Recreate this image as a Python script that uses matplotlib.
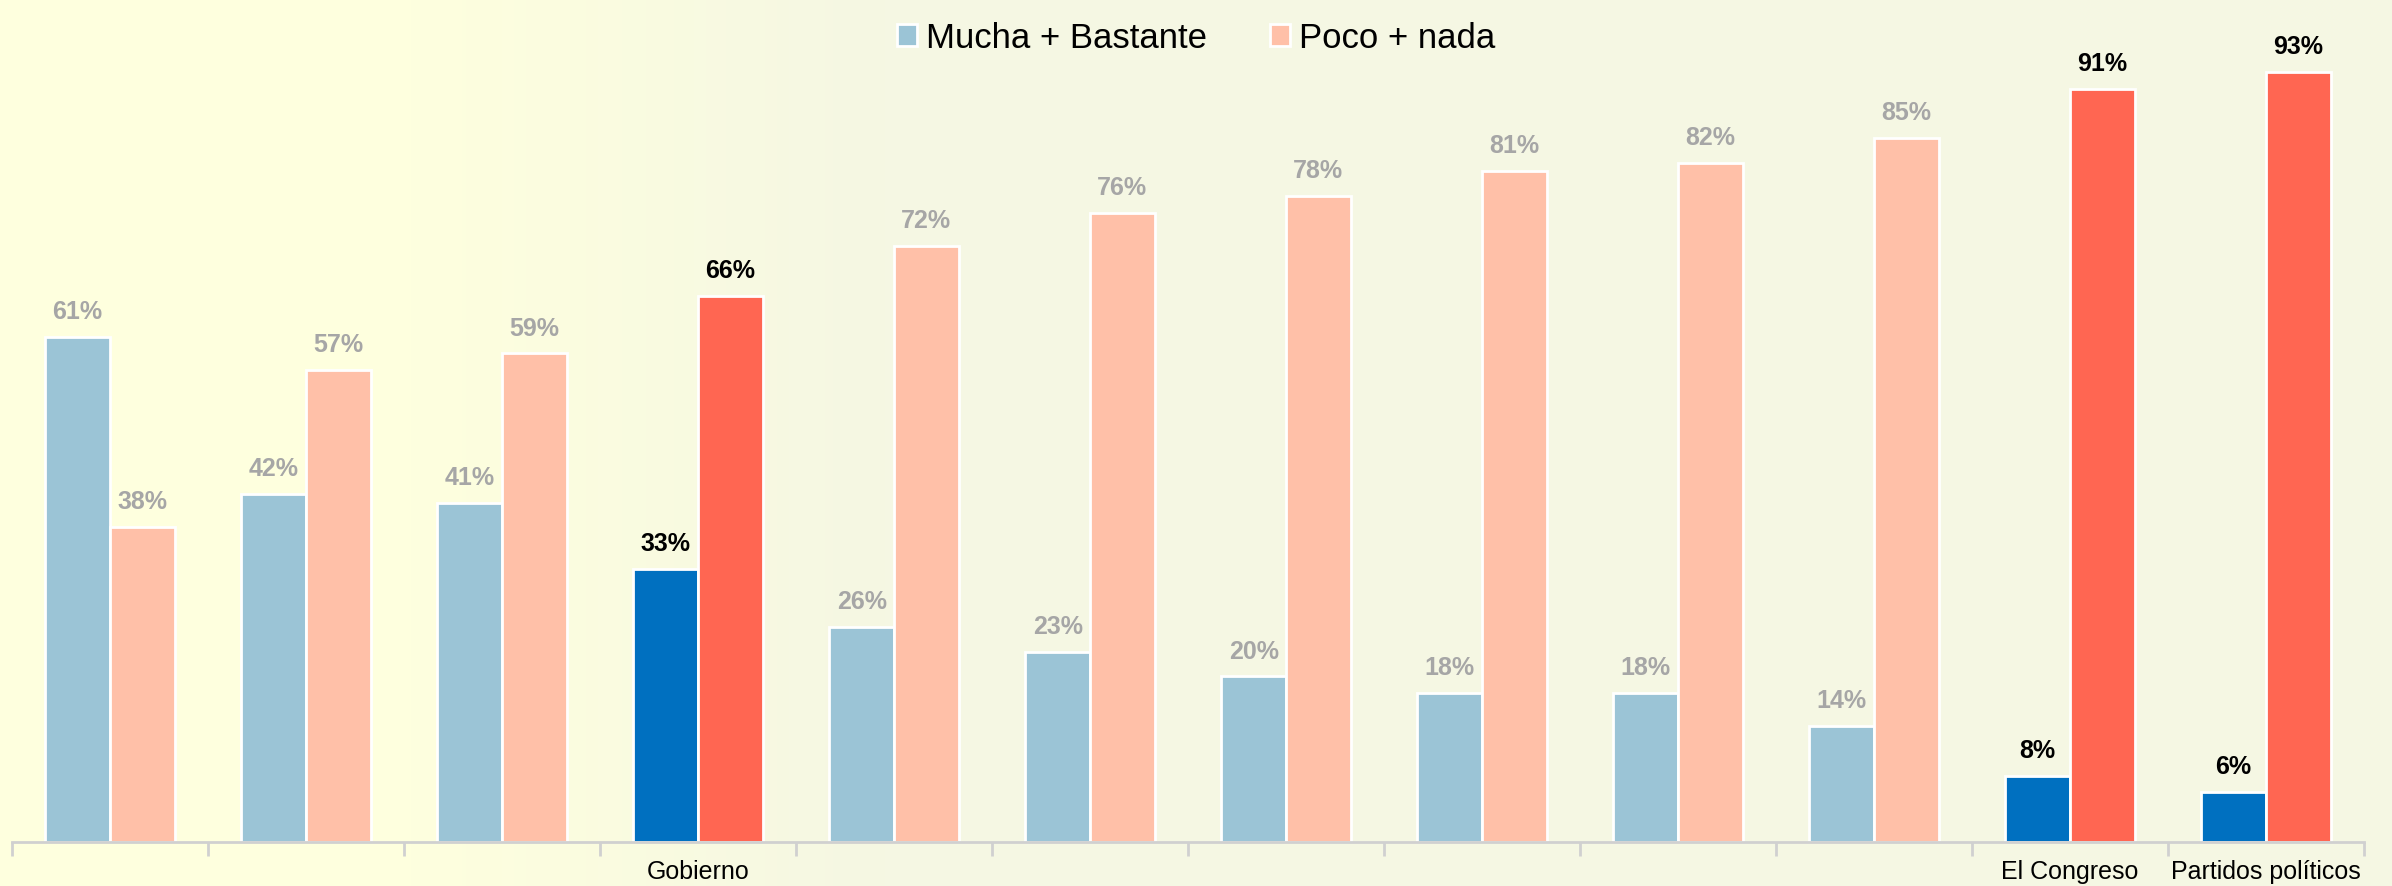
import matplotlib
matplotlib.use("Agg")
import matplotlib.pyplot as plt
import numpy as np
from matplotlib.colors import LinearSegmentedColormap

plt.rcParams["font.family"] = ["Liberation Sans", "DejaVu Sans"]

# data
categories = ["", "", "", "Gobierno", "", "", "", "", "", "", "El Congreso", "Partidos políticos"]
mucha = [61, 42, 41, 33, 26, 23, 20, 18, 18, 14, 8, 6]
poco = [38, 57, 59, 66, 72, 76, 78, 81, 82, 85, 91, 93]
highlight = [False, False, False, True, False, False, False, False, False, False, True, True]

BLUE_LIGHT = "#9BC4D6"
BLUE_DARK = "#0070C0"
RED_LIGHT = "#FFC0A8"
RED_DARK = "#FF6652"
GRAY = "#A6A6A6"

fig = plt.figure(figsize=(23.92, 8.87), dpi=100)

# background: plain pale yellow on the left, greyer paper tone to the right
bg = fig.add_axes([0, 0, 1, 1], zorder=-10)
grad = np.clip((np.linspace(0, 1, 600) - 0.17) / 0.2, 0, 1)
bg_cmap = LinearSegmentedColormap.from_list("bg", ["#FEFFDE", "#F5F7E3"])
bg.imshow(grad[np.newaxis, :], aspect="auto", cmap=bg_cmap, extent=[0, 1, 0, 1])
bg.axis("off")

ax = fig.add_axes([0.005, 0.0496, 0.9833, 0.9335])
ax.patch.set_alpha(0)

x = np.arange(len(categories))
w = 0.33
off = 0.165
c_blue = [BLUE_DARK if h else BLUE_LIGHT for h in highlight]
c_red = [RED_DARK if h else RED_LIGHT for h in highlight]
b1 = ax.bar(x - off, mucha, w, color=c_blue, edgecolor="white", linewidth=2)
b2 = ax.bar(x + off, poco, w, color=c_red, edgecolor="white", linewidth=2)

for bars, vals in ((b1, mucha), (b2, poco)):
    for rect, v, h in zip(bars, vals, highlight):
        ax.annotate(f"{v}%", (rect.get_x() + rect.get_width() / 2, v),
                    xytext=(0, 10), textcoords="offset points",
                    ha="center", va="bottom", fontsize=18, fontweight="bold",
                    color="black" if h else GRAY)

ax.set_xlim(-0.5, len(categories) - 0.5)
ax.set_ylim(0, 100)
ax.set_yticks([])
for s in ("top", "right", "left"):
    ax.spines[s].set_visible(False)
ax.spines["bottom"].set_color("#D0D0D0")
ax.spines["bottom"].set_linewidth(2)

ax.set_xticks(np.arange(len(categories) + 1) - 0.5)
ax.set_xticklabels([])
ax.tick_params(axis="x", which="major", length=10, width=2, color="#D0D0D0")
ax.set_xticks(x, minor=True)
ax.set_xticklabels(categories, minor=True, fontsize=18)
ax.tick_params(axis="x", which="minor", length=0, pad=12)

handles = [plt.Rectangle((0, 0), 1, 1, facecolor=BLUE_LIGHT, edgecolor="white", linewidth=2),
           plt.Rectangle((0, 0), 1, 1, facecolor=RED_LIGHT, edgecolor="white", linewidth=2)]
fig.legend(handles, ["Mucha + Bastante", "Poco + nada"], loc="upper center",
           bbox_to_anchor=(0.5, 1.01), ncol=2, frameon=False, fontsize=25,
           handlelength=0.6, handleheight=0.6, handletextpad=0.25, columnspacing=1.8)

fig.savefig("out.png", dpi=100)
